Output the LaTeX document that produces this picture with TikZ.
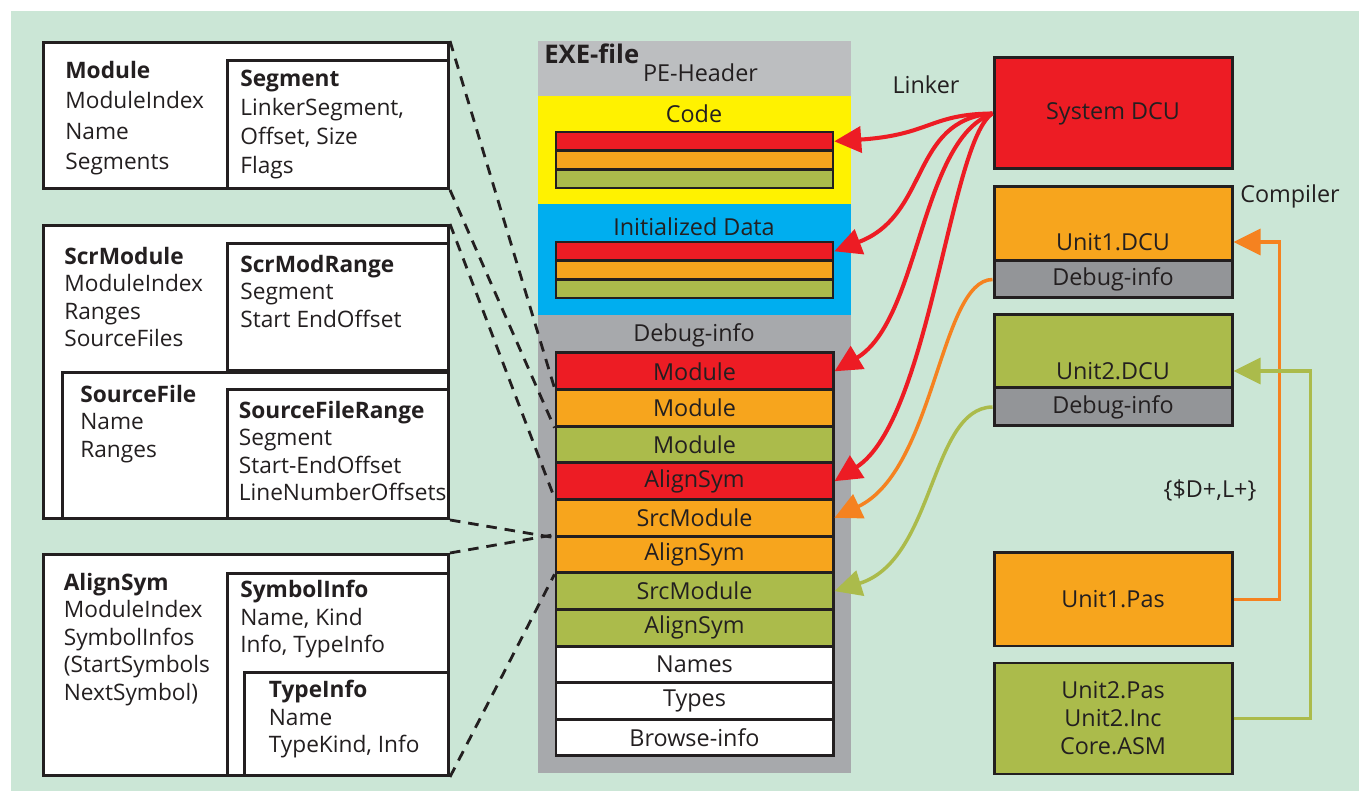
\documentclass[tikz,border=0pt]{standalone}
\usepackage{fontspec}
\setmainfont{Open Sans}
\usetikzlibrary{arrows.meta, positioning, calc}

\definecolor{bggreen}{RGB}{203,230,214}
\definecolor{dcured}{RGB}{237,28,36}
\definecolor{unitorange}{RGB}{247,165,29}
\definecolor{arroworange}{RGB}{245,130,32}
\definecolor{unitgreen}{RGB}{171,187,75}
\definecolor{codeyellow}{RGB}{255,242,0}
\definecolor{datablue}{RGB}{0,174,239}
\definecolor{headgrey}{RGB}{188,190,192}
\definecolor{debuggrey}{RGB}{167,169,172}
\definecolor{dcugrey}{RGB}{147,149,152}
\definecolor{ink}{RGB}{35,31,32}

\begin{document}
\begin{tikzpicture}[>=Stealth, font=\fontsize{13.3}{15.9}\selectfont, text=ink,
  infobox/.style={draw=ink, line width=1.7pt, fill=white, anchor=north west, inner sep=0pt},
  infotext/.style={anchor=north west, inner sep=0pt, align=left, font=\fontsize{12.9}{15.6}\selectfont},
  segbar/.style={draw=ink, line width=1.4pt, minimum width=5.54cm, minimum height=0.373cm, inner sep=0pt},
  dbgrow/.style={draw=ink, line width=1.7pt, minimum width=5.54cm, minimum height=0.733cm, inner sep=0pt},
  unitbox/.style={draw=ink, line width=1.7pt, minimum width=4.76cm, inner sep=0pt},
  linkarrow/.style={dcured, line width=2.3pt, -{Triangle[length=0.54cm, width=0.52cm]}},
  srcarrow/.style={line width=2pt, -{Triangle[length=0.54cm, width=0.52cm]}},
  dashlink/.style={ink, line width=1.6pt, dash pattern=on 6pt off 4.5pt}]

\useasboundingbox (0,0) rectangle (27.18,15.82);
\fill[bggreen] (0.22,0) rectangle (27.18,15.6);

% ---- Debug records (left) ---------------------------------------------
\node[infobox, minimum width=8.10cm, minimum height=2.92cm] (modbox) at (0.84,15.0) {};
\node[infobox, minimum width=4.42cm, minimum height=2.56cm] (segbox) at (4.52,14.64) {};
\node[infotext, font=\fontsize{12.9}{17.3}\selectfont] (modtxt) at (1.30,14.60)
      {\textbf{Module}\\ModuleIndex\\Name\\Segments};
\node[infotext, font=\fontsize{12.9}{16.5}\selectfont] (segtxt) at (4.80,14.42)
      {\textbf{Segment}\\LinkerSegment,\\Offset, Size\\Flags};

\node[infobox, minimum width=8.10cm, minimum height=5.86cm] (scrbox) at (0.84,11.34) {};
\node[infobox, minimum width=4.42cm, minimum height=2.54cm] (rangebox) at (4.52,10.98) {};
\node[infobox, minimum width=7.72cm, minimum height=2.92cm] (filebox) at (1.22,8.40) {};
\node[infobox, minimum width=4.42cm, minimum height=2.58cm] (frangebox) at (4.52,8.06) {};
\node[infotext] (scrtxt) at (1.28,10.88) {\textbf{ScrModule}\\ModuleIndex\\Ranges\\SourceFiles};
\node[infotext] (rangetxt) at (4.80,10.72) {\textbf{ScrModRange}\\Segment\\Start EndOffset};
\node[infotext] (filetxt) at (1.60,8.12) {\textbf{SourceFile}\\Name\\Ranges};
\node[infotext] (frangetxt) at (4.77,7.80)
      {\textbf{SourceFileRange}\\Segment\\Start-EndOffset\\LineNumberOffsets};

\node[infobox, minimum width=8.10cm, minimum height=4.42cm] (alignbox) at (0.84,4.76) {};
\node[infobox, minimum width=4.42cm, minimum height=4.04cm] (symbox) at (4.52,4.38) {};
\node[infobox, minimum width=4.08cm, minimum height=2.06cm] (typebox) at (4.86,2.40) {};
\node[infotext] (aligntxt) at (1.27,4.36)
      {\textbf{AlignSym}\\ModuleIndex\\SymbolInfos\\(StartSymbols\\NextSymbol)};
\node[infotext] (symtxt) at (4.80,4.22) {\textbf{SymbolInfo}\\Name, Kind\\Info, TypeInfo};
\node[infotext] (typetxt) at (5.37,2.22) {\textbf{TypeInfo}\\Name\\TypeKind, Info};

% ---- EXE file (middle) -------------------------------------------------
\fill[debuggrey] (10.76,0.36) rectangle (17.02,15.0);
\fill[headgrey] (10.76,13.90) rectangle (17.02,15.0);
\fill[codeyellow] (10.76,11.74) rectangle (17.02,13.90);
\fill[datablue] (10.76,9.52) rectangle (17.02,11.74);
\node[anchor=west, inner sep=0pt, font=\fontsize{14.6}{17}\selectfont\bfseries] (exelabel)
      at (10.88,14.75) {EXE-file};
\node (pehead) at (14.01,14.37) {PE-Header};
\node (codelabel) at (13.88,13.54) {Code};
\node (datalabel) at (13.88,11.28) {Initialized Data};
\node (dbglabel) at (13.88,9.12) {Debug-info};

\foreach \c [count=\i] in {dcured,unitorange,unitgreen}{
  \node[segbar, fill=\c] (code\i) at (13.89,{13.3665-0.373*\i}) {};
  \node[segbar, fill=\c] (init\i) at (13.89,{11.1665-0.373*\i}) {};
}
\foreach \c/\t [count=\i] in {dcured/Module, unitorange/Module, unitgreen/Module,
    dcured/AlignSym, unitorange/SrcModule, unitorange/AlignSym, unitgreen/SrcModule,
    unitgreen/AlignSym, white/Names, white/Types, white/Browse-info}
  \node[dbgrow, fill=\c] (dbg\i) at (13.89,{9.1264-0.7327*\i}) {\t};

% ---- Units (right) -----------------------------------------------------
\node[unitbox, fill=dcured, minimum height=2.22cm] (sysdcu) at (22.26,13.55) {System DCU};
\node[unitbox, fill=unitorange, minimum height=1.48cm] (u1dcu) at (22.26,11.34) {};
\node (u1txt) at (22.26,10.98) {Unit1.DCU};
\node[unitbox, fill=dcugrey, minimum height=0.74cm] (u1dbg) at (22.26,10.23) {Debug-info};
\node[unitbox, fill=unitgreen, minimum height=1.46cm] (u2dcu) at (22.26,8.79) {};
\node (u2txt) at (22.26,8.40) {Unit2.DCU};
\node[unitbox, fill=dcugrey, minimum height=0.76cm] (u2dbg) at (22.26,7.68) {Debug-info};
\node[unitbox, fill=unitorange, minimum height=1.86cm] (u1pas) at (22.26,3.83) {Unit1.Pas};
\node[unitbox, fill=unitgreen, minimum height=2.22cm, align=center,
      font=\fontsize{13.3}{15.9}\selectfont] (u2pas) at (22.26,1.45) {Unit2.Pas\\Unit2.Inc\\Core.ASM};

\node (linker) at (18.52,14.12) {Linker};
\node (compiler) at (25.80,11.90) {Compiler};
\node (dlflags) at (24.20,6.02) {\{\$D+,L+\}};

% ---- Compiler --------------------------------------------------------
\draw[srcarrow, arroworange] (u1pas.east) -- ++(0.92,0) |- (u1dcu.east |- u1txt);
\draw[srcarrow, unitgreen] (u2pas.east) -- ++(1.54,0) |- (u2dcu.east |- u2txt);

% ---- Linker ------------------------------------------------------------
\draw[linkarrow] (sysdcu.west) .. controls (18.60,13.54) and (18.60,13.12) .. (code1.east);
\draw[linkarrow] (sysdcu.west) .. controls (18.20,13.42) and (18.60,11.52) .. (init1.east);
\draw[linkarrow] (sysdcu.west) .. controls (18.40,13.02) and (18.40,9.42) .. (dbg1.east);
\draw[linkarrow] (sysdcu.west) .. controls (19.00,13.02) and (18.60,7.42) .. (dbg4.east);
\draw[srcarrow, arroworange] (u1dbg.west) .. controls (18.80,10.22) and (18.70,6.42) .. (dbg5.east);
\draw[srcarrow, unitgreen] (u2dbg.west) .. controls (18.60,7.66) and (18.70,4.62) .. (dbg7.east);

% ---- Record zoom lines -------------------------------------------------
\draw[dashlink] (modbox.north east) -- (dbg2.north west);
\draw[dashlink] (modbox.south east) -- (dbg2.south west);
\draw[dashlink] (scrbox.north east) -- (dbg5.north west);
\draw[dashlink] (scrbox.south east) -- (dbg5.south west);
\draw[dashlink] (alignbox.north east) -- (dbg6.north west);
\draw[dashlink] (alignbox.south east) -- (dbg6.south west);

\end{tikzpicture}
\end{document}
